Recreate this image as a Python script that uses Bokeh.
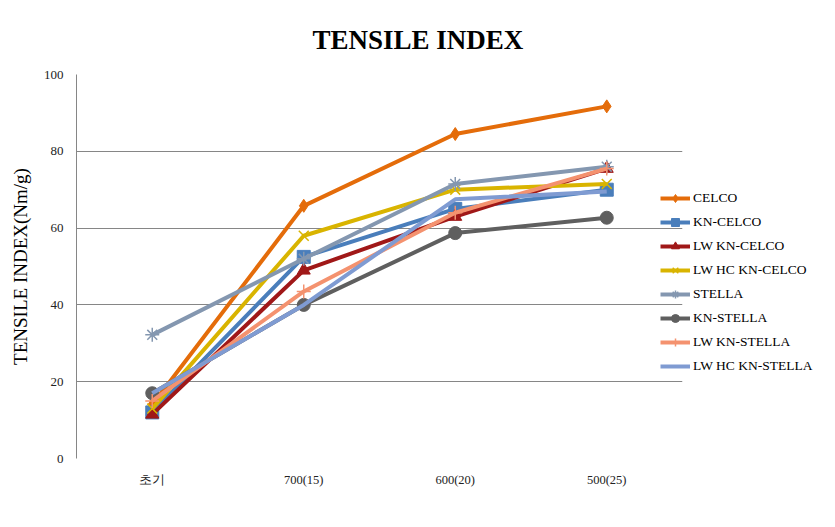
from bokeh.plotting import figure
from bokeh.models import Legend, LegendItem, FactorRange, SingleIntervalTicker
from bokeh.embed import file_html
from bokeh.resources import INLINE

categories = ["초기", "700(15)", "600(20)", "500(25)"]
series_names = ["CELCO", "KN-CELCO", "LW KN-CELCO", "LW HC KN-CELCO",
                "STELLA", "KN-STELLA", "LW KN-STELLA", "LW HC KN-STELLA"]
celco = [14.0, 65.8, 84.5, 91.7]
kn_celco = [12.0, 52.5, 65.0, 70.0]
lw_kn_celco = [11.5, 49.0, 63.0, 75.5]
lw_hc_kn_celco = [13.0, 58.0, 70.0, 71.5]
stella = [32.2, 52.0, 71.5, 76.0]
kn_stella = [17.0, 40.0, 58.7, 62.7]
lw_kn_stella = [15.0, 43.5, 64.0, 75.5]
lw_hc_kn_stella = [17.0, 40.0, 67.5, 69.5]

values = [celco, kn_celco, lw_kn_celco, lw_hc_kn_celco,
          stella, kn_stella, lw_kn_stella, lw_hc_kn_stella]
colors = ["#E46C0A", "#4A7EBB", "#A01818", "#D9B400",
          "#8497B0", "#5F5F5F", "#F4926F", "#7F9BD2"]
markers = ["diamond", "square", "triangle", "x",
           "asterisk", "circle", "cross", None]

FONT = "Liberation Serif"

p = figure(x_range=FactorRange(*categories, range_padding=0),
           y_range=(0, 100),
           frame_width=606, frame_height=384,
           min_border_left=76, min_border_right=148,
           min_border_top=74, min_border_bottom=60,
           output_backend="svg", toolbar_location=None,
           title="TENSILE INDEX")

p.title.text_font = FONT
p.title.text_font_size = "27px"
p.title.text_font_style = "bold"
p.title.text_color = "#000000"
p.title.align = "left"
p.title.offset = 236
p.title.standoff = 39

p.outline_line_color = None
p.xgrid.grid_line_color = None
p.ygrid.grid_line_color = "#868686"
p.ygrid.grid_line_width = 1

p.yaxis.ticker = SingleIntervalTicker(interval=20)
p.yaxis.axis_line_color = "#868686"
p.yaxis.major_tick_line_color = None
p.yaxis.minor_tick_line_color = None
p.yaxis.major_tick_out = 0
p.yaxis.major_tick_in = 0
p.yaxis.major_label_standoff = 9
p.yaxis.major_label_text_font = FONT
p.yaxis.major_label_text_font_size = "13px"
p.yaxis.major_label_text_color = "#222222"
p.yaxis.axis_label = "TENSILE INDEX(Nm/g)"
p.yaxis.axis_label_text_font = FONT
p.yaxis.axis_label_text_font_size = "19px"
p.yaxis.axis_label_text_font_style = "normal"
p.yaxis.axis_label_text_color = "#000000"
p.yaxis.axis_label_standoff = 10

p.xaxis.axis_line_color = None
p.xaxis.major_tick_line_color = None
p.xaxis.minor_tick_line_color = None
p.xaxis.major_tick_out = 0
p.xaxis.major_tick_in = 0
p.xaxis.major_label_standoff = 14
p.xaxis.major_label_text_font = FONT
p.xaxis.major_label_text_font_size = "12.5px"
p.xaxis.major_label_text_color = "#222222"

items = []
for name, vals, col, mk in zip(series_names, values, colors, markers):
    r_line = p.line(categories, vals, line_color=col, line_width=4)
    rs = [r_line]
    if mk is not None:
        if mk in ("x", "asterisk", "cross"):
            r_m = p.scatter(categories, vals, marker=mk, size=14,
                            line_color=col, line_width=1.5, fill_color=col)
        else:
            r_m = p.scatter(categories, vals, marker=mk, size=13,
                            line_color=col, fill_color=col)
        rs.append(r_m)
    items.append(LegendItem(label=name, renderers=rs))

legend = Legend(items=items, location=(-22, 82))
legend.background_fill_alpha = 0
legend.border_line_color = None
legend.label_text_font = FONT
legend.label_text_font_size = "13.5px"
legend.label_text_color = "#000000"
legend.label_standoff = 3
legend.glyph_width = 30
legend.glyph_height = 20
legend.spacing = 4
legend.padding = 0
legend.margin = 0
p.add_layout(legend, "right")

open("out.html", "w").write(file_html(p, INLINE))
